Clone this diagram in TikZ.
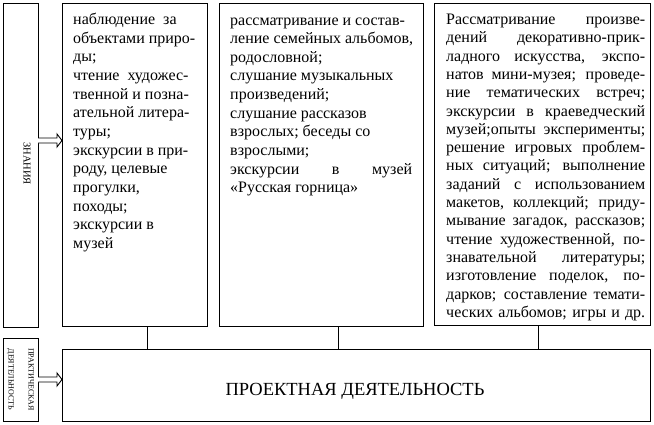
\documentclass[tikz,border=0pt]{standalone}
\usepackage{fontspec}
\setmainfont{Liberation Serif}
\usetikzlibrary{calc}
\newcommand{\JLine}[2]{\makebox[#1][s]{#2}}
\tikzset{
  frame/.style={draw, line width=0.9pt, inner sep=0pt, anchor=north west},
  body/.style={inner sep=0pt, anchor=base west},
  link/.style={line width=0.9pt},
  blockarrow/.style={draw, line width=0.9pt, fill=white, line join=miter}
}
\begin{document}
\begin{tikzpicture}[x=1pt,y=-1pt]
\useasboundingbox (0,0) rectangle (654,424);
% frames
\node[frame, minimum width=35pt, minimum height=324pt] (zn) at (3,3) {};
\node[frame, minimum width=145pt, minimum height=323pt] (b1) at (62,3) {};
\node[frame, minimum width=204pt, minimum height=323pt] (b2) at (219,3) {};
\node[frame, minimum width=216pt, minimum height=322pt] (b3) at (434,3) {};
\node[frame, minimum width=35pt, minimum height=83pt] (pr) at (3,338) {};
\node[frame, minimum width=588pt, minimum height=72pt] (pb) at (62,349) {};
% vertical labels
\node[rotate=-90, inner sep=0pt, font=\fontsize{10.5}{12}\selectfont] (zt) at (27,163.5) {ЗНАНИЯ};
\node[rotate=-90, inner sep=0pt, align=center, font=\fontsize{8}{20}\selectfont] (prt) at (20.5,379.5) {ПРАКТИЧЕСКАЯ\\ДЕЯТЕЛЬНОСТЬ};
% bottom title
\node[inner sep=0pt, font=\fontsize{18.5}{22}\selectfont] (pbt) at (355,391) {ПРОЕКТНАЯ ДЕЯТЕЛЬНОСТЬ};
% box texts
\node[body] (t1) at (73,24.5) {\parbox[t]{160pt}{\fontsize{16}{18.65}\selectfont\raggedright
наблюдение\ \ за\\
объектами приро-\\
ды;\\
чтение\ \ художес-\\
твенной и позна-\\
ательной литера-\\
туры;\\
экскурсии в при-\\
роду, целевые\\
прогулки,\\
походы;\\
экскурсии в\\
музей}};
\node[body] (t2) at (230,25) {\parbox[t]{200pt}{\fontsize{16}{18.65}\selectfont\raggedright
рассматривание и состав-\\
ление семейных альбомов,\\
родословной;\\
слушание музыкальных\\
произведений;\\
слушание рассказов\\
взрослых; беседы со\\
взрослыми;\\
\JLine{182pt}{экскурсии в музей}\\
«Русская горница»}};
\node[body] (t3) at (446,24.5) {\parbox[t]{215pt}{\fontsize{16}{18.3}\selectfont\raggedright
\JLine{199pt}{Рассматривание произве-}\\
\JLine{199pt}{дений декоративно-прик-}\\
\JLine{199pt}{ладного искусства, экспо-}\\
\JLine{199pt}{натов мини-музея; проведе-}\\
\JLine{199pt}{ние тематических встреч;}\\
\JLine{199pt}{экскурсии в краеведческий}\\
\JLine{199pt}{музей;опыты эксперименты;}\\
\JLine{199pt}{решение игровых проблем-}\\
\JLine{199pt}{ных ситуаций; выполнение}\\
\JLine{199pt}{заданий с использованием}\\
\JLine{199pt}{макетов, коллекций; приду-}\\
\JLine{199pt}{мывание загадок, рассказов;}\\
\JLine{199pt}{чтение художественной, по-}\\
\JLine{199pt}{знавательной литературы;}\\
\JLine{199pt}{изготовление поделок, по-}\\
\JLine{199pt}{дарков; составление темати-}\\
\JLine{199pt}{ческих альбомов; игры и др.}}};
% connectors to bottom box
\coordinate (c1) at (147,0);
\coordinate (c2) at (338,0);
\coordinate (c3) at (538,0);
\draw[link] (b1.south -| c1) -- (pb.north -| c1);
\draw[link] (b2.south -| c2) -- (pb.north -| c2);
\draw[link] (b3.south -| c3) -- (pb.north -| c3);
% block arrows
\coordinate (a1) at (38,140.5);
\coordinate (a2) at (38,379.5);
\draw[blockarrow] ($(a1)+(0,-2.5)$) -- ($(b1.west |- a1)+(-5,-2.5)$) -- ++(0,-4) -- (b1.west |- a1) -- ($(b1.west |- a1)+(-5,6.5)$) -- ++(0,-4) -- ($(a1)+(0,2.5)$);
\draw[blockarrow] ($(a2)+(0,-2.5)$) -- ($(pb.west |- a2)+(-5,-2.5)$) -- ++(0,-4) -- (pb.west |- a2) -- ($(pb.west |- a2)+(-5,6.5)$) -- ++(0,-4) -- ($(a2)+(0,2.5)$);
\end{tikzpicture}
\end{document}
